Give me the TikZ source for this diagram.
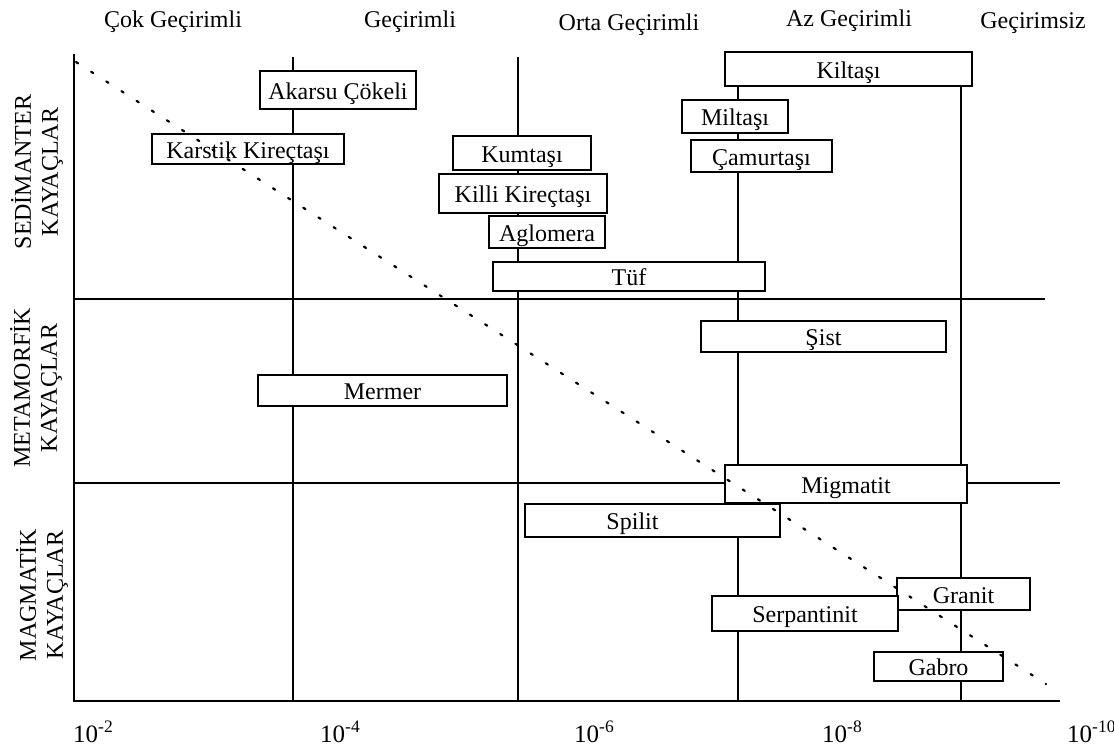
\documentclass[tikz,border=0pt]{standalone}
\usepackage{fontspec}
\setmainfont{Liberation Serif}
\usepackage{tikz}
\tikzset{
    frameline/.style={draw=black, line width=2.2pt},
    rock/.style={draw=black, fill=white, line width=2pt, inner sep=0pt,
        text height=18pt, text depth=0pt, font=\fontsize{24}{26}\selectfont},
    trend/.style={draw=black, line width=2.2pt, line cap=round,
        dash pattern=on 2.5pt off 15.5pt},
    zone/.style={rotate=90, align=center, font=\fontsize{24}{27}\selectfont},
    classlabel/.style={anchor=base, font=\fontsize{24}{26}\selectfont},
    ticklabel/.style={anchor=base west, inner sep=0pt, font=\fontsize{25}{26}\selectfont}
}

\begin{document}
\begin{tikzpicture}[x=1pt, y=-1pt]
\useasboundingbox (0,0) rectangle (1114,747);

% permeability classes
\node[classlabel] (cok) at (173,27) {Çok Geçirimli};
\node[classlabel] (gec) at (410,27) {Geçirimli};
\node[classlabel] (orta) at (629,30) {Orta Geçirimli};
\node[classlabel] (az) at (849,26) {Az Geçirimli};
\node[classlabel] (siz) at (1033,28) {Geçirimsiz};

% rock groups
\node[zone] (sed) at (37,172) {SEDİMANTER\\KAYAÇLAR};
\node[zone] (met) at (36,388) {METAMORFİK\\KAYAÇLAR};
\node[zone] (mag) at (42,595) {MAGMATİK\\KAYAÇLAR};

% frame and limits
\draw[frameline] (74,54) -- (74,701) -- (1060,701);
\draw[frameline] (74,299) -- (1045,299);
\draw[frameline] (74,483) -- (1060,483);
\draw[frameline] (293,57) -- (293,701);
\draw[frameline] (518,57) -- (518,701);
\draw[frameline] (738,80) -- (738,701);
\draw[frameline] (961,80) -- (961,701);

% sedimentary rocks
\node[rock, minimum width=247pt, minimum height=34pt] (kiltasi) at (848.5,69) {Kiltaşı};
\node[rock, minimum width=156pt, minimum height=38pt] (akarsu) at (338,90) {Akarsu Çökeli};
\node[rock, minimum width=106pt, minimum height=33pt] (miltasi) at (735,116.5) {Miltaşı};
\node[rock, minimum width=192pt, minimum height=30pt] (karstik) at (248,149) {Karstik Kireçtaşı};
\node[rock, minimum width=138pt, minimum height=34pt] (kumtasi) at (522,153) {Kumtaşı};
\node[rock, minimum width=141pt, minimum height=32pt] (camurtasi) at (761.5,156) {Çamurtaşı};
\node[rock, minimum width=168pt, minimum height=39pt] (killi) at (523,193.5) {Killi Kireçtaşı};
\node[rock, minimum width=116pt, minimum height=32pt] (aglomera) at (547,232) {Aglomera};
\node[rock, minimum width=272pt, minimum height=29pt] (tuf) at (629,276.5) {Tüf};

% metamorphic rocks
\node[rock, minimum width=245pt, minimum height=31pt] (sist) at (823.5,336.5) {Şist};
\node[rock, minimum width=249pt, minimum height=31pt] (mermer) at (382.5,390.5) {Mermer};
\node[rock, minimum width=242pt, minimum height=38pt] (migmatit) at (846,484) {Migmatit};

% magmatic rocks
\node[rock, minimum width=255pt, minimum height=33pt,
    label={[xshift=-20pt, text height=18pt, text depth=0pt, font=\fontsize{24}{26}\selectfont]center:Spilit}] (spilit) at (652.5,520.5) {};
\node[rock, minimum width=133pt, minimum height=32pt] (granit) at (963.5,594) {Granit};
\node[rock, minimum width=186pt, minimum height=35pt] (serpantinit) at (805,613.5) {Serpantinit};
\node[rock, minimum width=129pt, minimum height=29pt] (gabro) at (938.5,666.5) {Gabro};

% trend
\coordinate (top) at (76,62);
\coordinate (bottom) at (1046,684);
\draw[trend] (top) -- (bottom);

% permeability scale
\node[ticklabel] (k2) at (73,742) {10\textsuperscript{-2}};
\node[ticklabel] (k4) at (320,742) {10\textsuperscript{-4}};
\node[ticklabel] (k6) at (574,742) {10\textsuperscript{-6}};
\node[ticklabel] (k8) at (822,742) {10\textsuperscript{-8}};
\node[ticklabel] (k10) at (1067,742) {10\textsuperscript{-10}};
\end{tikzpicture}
\end{document}
